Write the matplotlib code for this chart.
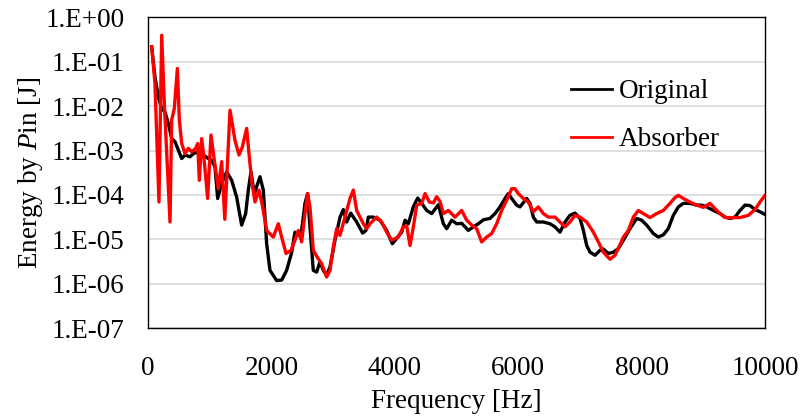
import matplotlib
matplotlib.use("Agg")
import matplotlib.pyplot as plt
import numpy as np
from matplotlib.ticker import FuncFormatter, FixedLocator

# frequency [Hz] and log10(energy [J])
orig_freq = [60, 113, 167, 222, 275, 330, 384, 438, 492, 546, 600, 681, 735, 816, 897,
             978, 1032, 1086, 1129, 1194, 1275, 1356, 1437, 1518, 1583, 1626, 1669, 1723,
             1815, 1869, 1923, 1977, 2085, 2166, 2247, 2328, 2382, 2436, 2490, 2544, 2587,
             2625, 2679, 2733, 2787, 2841, 2895, 2950, 3031, 3112, 3166, 3220, 3285, 3382,
             3479, 3533, 3571, 3652, 3760, 3868, 3960, 4030, 4112, 4166, 4220, 4300, 4371,
             4436, 4517, 4598, 4706, 4787, 4841, 4922, 5003, 5084, 5192, 5273, 5354, 5435,
             5543, 5624, 5705, 5786, 5840, 5894, 5975, 6029, 6137, 6191, 6245, 6299, 6407,
             6515, 6596, 6677, 6758, 6839, 6920, 7002, 7056, 7110, 7164, 7245, 7326, 7380,
             7461, 7542, 7623, 7704, 7812, 7920, 8001, 8082, 8190, 8271, 8352, 8433, 8514,
             8595, 8676, 8784, 8892, 8973, 9054, 9163, 9271, 9352, 9433, 9514, 9595, 9676,
             9757, 9838, 9919, 10000]
orig_exp = [-0.66, -1.34, -1.79, -2.05, -2.13, -2.39, -2.73, -2.80, -2.99, -3.18, -3.10,
            -3.14, -3.07, -3.03, -3.10, -3.18, -3.22, -3.37, -4.08, -3.74, -3.48, -3.67,
            -4.05, -4.68, -4.42, -3.89, -3.48, -3.97, -3.59, -3.89, -5.10, -5.70, -5.93,
            -5.92, -5.70, -5.30, -4.84, -4.91, -4.80, -4.19, -3.97, -4.72, -5.70, -5.74,
            -5.51, -5.70, -5.81, -5.62, -5.02, -4.50, -4.33, -4.61, -4.41, -4.61, -4.86,
            -4.80, -4.50, -4.50, -4.57, -4.80, -5.10, -4.98, -4.84, -4.57, -4.65, -4.27,
            -4.07, -4.19, -4.35, -4.42, -4.22, -4.65, -4.76, -4.57, -4.65, -4.64, -4.80,
            -4.72, -4.65, -4.56, -4.53, -4.42, -4.27, -4.08, -3.97, -4.08, -4.23, -4.27,
            -4.08, -4.19, -4.50, -4.61, -4.61, -4.65, -4.72, -4.84, -4.61, -4.46, -4.41,
            -4.53, -4.80, -5.14, -5.29, -5.36, -5.25, -5.22, -5.32, -5.29, -5.21, -5.02,
            -4.76, -4.53, -4.57, -4.68, -4.87, -4.95, -4.90, -4.76, -4.46, -4.27, -4.19,
            -4.19, -4.23, -4.23, -4.27, -4.35, -4.42, -4.50, -4.53, -4.50, -4.35, -4.23,
            -4.24, -4.33, -4.38, -4.44]

abs_freq = [60, 113, 178, 222, 265, 357, 384, 427, 476, 508, 546, 600, 654, 708, 773, 805,
            832, 870, 908, 967, 1021, 1075, 1140, 1194, 1245, 1329, 1410, 1475, 1529, 1599,
            1637, 1680, 1734, 1799, 1853, 1923, 2031, 2112, 2166, 2237, 2318, 2382, 2436,
            2490, 2544, 2587, 2625, 2679, 2760, 2814, 2895, 2950, 3004, 3058, 3112, 3193,
            3274, 3328, 3382, 3436, 3490, 3544, 3598, 3706, 3787, 3868, 3949, 4057, 4138,
            4193, 4247, 4301, 4355, 4436, 4490, 4560, 4625, 4679, 4733, 4787, 4868, 4976,
            5084, 5165, 5246, 5327, 5408, 5489, 5570, 5651, 5732, 5813, 5894, 5948, 6002,
            6083, 6164, 6245, 6326, 6407, 6488, 6596, 6677, 6758, 6839, 6920, 7002, 7110,
            7218, 7299, 7380, 7488, 7569, 7650, 7704, 7785, 7866, 7947, 8028, 8136, 8244,
            8352, 8460, 8541, 8595, 8676, 8784, 8892, 9000, 9109, 9190, 9271, 9352, 9460,
            9595, 9730, 9838, 9919, 10000]
abs_exp = [-0.66, -1.49, -4.16, -0.40, -1.94, -4.61, -2.31, -2.05, -1.15, -2.31, -2.84,
           -3.07, -2.95, -3.03, -2.95, -2.84, -3.67, -2.73, -3.18, -4.08, -2.65, -3.22,
           -3.86, -3.25, -4.55, -2.09, -2.77, -3.10, -2.92, -2.50, -3.07, -3.67, -4.16,
           -3.89, -4.23, -4.80, -4.95, -4.65, -4.95, -5.32, -5.25, -5.02, -4.80, -5.06,
           -4.42, -3.97, -4.27, -5.25, -5.44, -5.55, -5.85, -5.70, -5.17, -4.76, -4.91,
           -4.50, -4.08, -3.89, -4.35, -4.50, -4.65, -4.76, -4.65, -4.50, -4.61, -4.84,
           -5.02, -4.95, -4.72, -4.70, -5.14, -4.72, -4.23, -4.19, -3.97, -4.16, -4.18,
           -4.04, -4.15, -4.42, -4.35, -4.50, -4.35, -4.57, -4.68, -4.76, -5.06, -4.95,
           -4.87, -4.65, -4.35, -4.12, -3.86, -3.86, -3.97, -4.08, -4.16, -4.38, -4.27,
           -4.42, -4.50, -4.50, -4.61, -4.72, -4.61, -4.46, -4.50, -4.61, -4.84, -5.06,
           -5.29, -5.45, -5.36, -5.12, -4.95, -4.80, -4.50, -4.35, -4.42, -4.51, -4.42,
           -4.35, -4.19, -4.06, -4.01, -4.08, -4.16, -4.23, -4.28, -4.19, -4.31, -4.42,
           -4.51, -4.51, -4.51, -4.46, -4.33, -4.16, -4.01]

x_ticks = [0, 2000, 4000, 6000, 8000, 10000]
y_ticks = [1e-7, 1e-6, 1e-5, 1e-4, 1e-3, 1e-2, 1e-1, 1e0]

plt.rcParams['font.family'] = ['Liberation Serif', 'DejaVu Serif']
plt.rcParams['font.size'] = 19.5
plt.rcParams['mathtext.fontset'] = 'custom'
plt.rcParams['mathtext.rm'] = 'Liberation Serif'
plt.rcParams['mathtext.it'] = 'Liberation Serif:italic'

fig = plt.figure(figsize=(8.03, 4.16), dpi=100)
ax = fig.add_axes([0.1843, 0.2115, 0.7684, 0.7465])

ax.plot(orig_freq, 10.0 ** np.array(orig_exp), color='black', lw=2.4,
        solid_joinstyle='round', label='Original', zorder=3)
ax.plot(abs_freq, 10.0 ** np.array(abs_exp), color='#ff0000', lw=2.4,
        solid_joinstyle='round', label='Absorber', zorder=4)

ax.set_yscale('log')
ax.set_xlim(0, 10000)
ax.set_ylim(1e-7, 1)
ax.xaxis.set_major_locator(FixedLocator(x_ticks))
ax.yaxis.set_major_locator(FixedLocator(y_ticks))
ax.yaxis.set_minor_locator(FixedLocator([]))
ax.yaxis.set_major_formatter(FuncFormatter(
    lambda v, p: "1.E{:+03d}".format(int(round(np.log10(v))))))
ax.tick_params(length=0)
ax.tick_params(axis='x', pad=20)
ax.tick_params(axis='y', pad=17)
ax.grid(axis='y', color='#d9d9d9', lw=1.2)
ax.set_axisbelow(True)
for s in ax.spines.values():
    s.set_linewidth(1.0)
    s.set_color('black')

ax.set_xlabel('Frequency [Hz]', labelpad=6)
ax.set_ylabel('Energy by $\\mathit{P}$in [J]', labelpad=0.5)

leg = ax.legend(loc='upper right', bbox_to_anchor=(0.966, 0.88), frameon=False,
                handlelength=1.5, handletextpad=0.25, labelspacing=0.85)
for h in leg.get_lines():
    h.set_linewidth(2.0)

fig.savefig('out.png', dpi=100)
